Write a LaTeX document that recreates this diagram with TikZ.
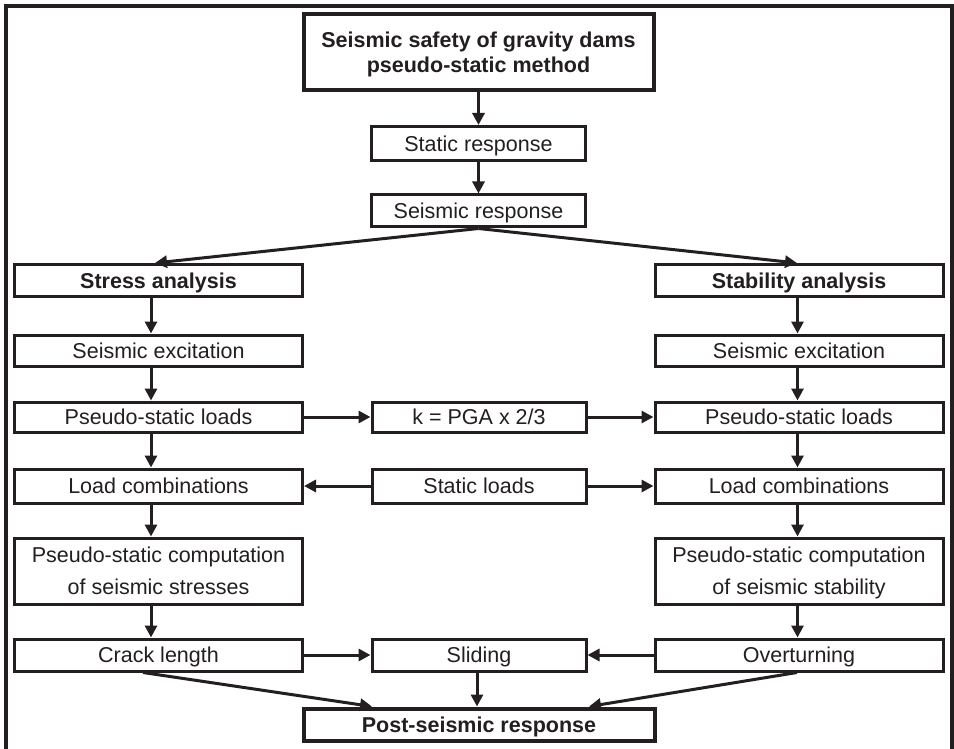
\documentclass[tikz,border=0pt]{standalone}
\usepackage{fontspec}
\setmainfont{Liberation Sans}
\usetikzlibrary{arrows.meta}
\definecolor{ink}{HTML}{231F20}
\tikzset{
  box/.style={draw=ink, line width=3pt, rectangle, inner sep=0pt, text=ink,
    minimum height=32pt, align=center, text height=15.5pt, text depth=0pt,
    font=\fontsize{21.5}{32}\selectfont},
  wide/.style={box, minimum width=288pt},
  mid/.style={box, minimum width=214pt},
  twolines/.style={text height=47.5pt},
  headbox/.style={box, line width=4pt, font=\fontsize{21.5}{25}\selectfont\bfseries},
  arr/.style={draw=ink, line width=3pt, -{Triangle[length=12pt,width=12pt]}},
  frame/.style={draw=ink, line width=4pt}
}
\begin{document}
\begin{tikzpicture}[x=1pt,y=-1pt]
\useasboundingbox (0,0) rectangle (954,749);
\fill[white] (0,0) rectangle (954,749);

% outer frame, open at the bottom
\draw[frame] (5.5,749) -- (5.5,6) -- (951.5,6) -- (951.5,749);

% top of the chart
\node[headbox, minimum width=350pt, minimum height=76pt, text height=40.5pt] (title) at (478.5,52.5)
  {Seismic safety of gravity dams\\pseudo-static method};
\node[mid, minimum height=34pt] (sres) at (478.5,143.5) {Static response};
\node[mid] (seis) at (478.5,211) {Seismic response};

% left column: stress analysis
\node[wide, font=\fontsize{21.5}{32}\selectfont\bfseries] (stress) at (158.5,280.5) {Stress analysis};
\node[wide, minimum height=31pt] (excL) at (158.5,350.5) {Seismic excitation};
\node[wide, minimum height=30pt] (pslL) at (158.5,417) {Pseudo-static loads};
\node[wide, minimum height=34pt] (lcL) at (158.5,486) {Load combinations};
\node[wide, twolines, minimum height=66pt] (compL) at (158.5,571) {Pseudo-static computation\\of seismic stresses};
\node[wide] (crack) at (158.5,655) {Crack length};

% right column: stability analysis
\node[wide, font=\fontsize{21.5}{32}\selectfont\bfseries] (stab) at (799,280.5) {Stability analysis};
\node[wide, minimum height=31pt] (excR) at (799,350.5) {Seismic excitation};
\node[wide, minimum height=30pt] (pslR) at (799,417) {Pseudo-static loads};
\node[wide, minimum height=34pt] (lcR) at (799,486) {Load combinations};
\node[wide, twolines, minimum height=66pt] (compR) at (799,571) {Pseudo-static computation\\of seismic stability};
\node[wide] (over) at (799,655) {Overturning};

% middle column
\node[mid, minimum height=30pt] (kfac) at (479,417) {k = PGA x 2/3};
\node[mid, minimum height=34pt] (sload) at (479,486) {Static loads};
\node[mid] (slide) at (479,655) {Sliding};
\node[headbox, minimum width=351pt, minimum height=32pt] (post) at (479,724.5) {Post-seismic response};

% connectors
\draw[arr] (title.south) -- (sres.north);
\draw[arr] (sres.south) -- (seis.north);
\draw[arr] (seis.south) -- ([xshift=-3.5pt]stress.north);
\draw[arr] (seis.south) -- ([xshift=-2pt]stab.north);

\foreach \a/\b in {stress/excL, excL/pslL, pslL/lcL, lcL/compL, compL/crack}
  \draw[arr] ([xshift=-7.5pt]\a.south) -- ([xshift=-7.5pt]\b.north);
\foreach \a/\b in {stab/excR, excR/pslR, pslR/lcR, lcR/compR, compR/over}
  \draw[arr] ([xshift=-1.5pt]\a.south) -- ([xshift=-1.5pt]\b.north);

\draw[arr] (pslL.east) -- (kfac.west);
\draw[arr] (kfac.east) -- (pslR.west);
\draw[arr] (sload.west) -- (lcL.east);
\draw[arr] (sload.east) -- (lcR.west);
\draw[arr] (crack.east) -- (slide.west);
\draw[arr] (over.west) -- (slide.east);

\draw[arr] ([xshift=-2pt]slide.south) -- ([xshift=-2pt]post.north);
\draw[arr] ([xshift=-15.5pt]crack.south) -- ([xshift=-107pt]post.north);
\draw[arr] ([xshift=-2pt]over.south) -- ([xshift=110pt]post.north);
\end{tikzpicture}
\end{document}
